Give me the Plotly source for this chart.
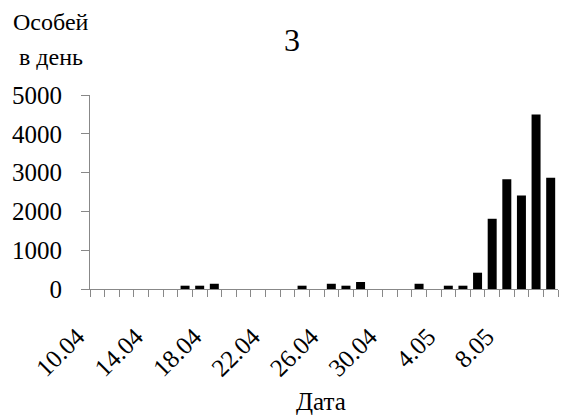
import plotly.graph_objects as go

dates = ["10.04", "11.04", "12.04", "13.04", "14.04", "15.04", "16.04", "17.04",
         "18.04", "19.04", "20.04", "21.04", "22.04", "23.04", "24.04", "25.04",
         "26.04", "27.04", "28.04", "29.04", "30.04", "1.05", "2.05", "3.05",
         "4.05", "5.05", "6.05", "7.05", "8.05", "9.05", "10.05", "11.05"]
counts = [0, 0, 0, 0, 0, 0, 85, 85,
          135, 0, 0, 0, 0, 0, 85, 0,
          135, 85, 180, 0, 0, 0, 135, 0,
          85, 85, 420, 1810, 2830, 2410, 4500, 2870]
tick_labels = ["10.04", "14.04", "18.04", "22.04", "26.04", "30.04", "4.05", "8.05"]
y_ticks = [0, 1000, 2000, 3000, 4000, 5000]

FONT = "Times New Roman"
W, H = 563, 418
ML, MR, MT, MB = 90, 4.5, 95, 128.7
pw = W - ML - MR
ph = H - MT - MB

def px(x):
    return (x - ML) / pw

def py(y):
    return (H - MB - y) / ph

fig = go.Figure(go.Bar(x=dates, y=counts, marker=dict(color="black", line=dict(width=0))))

fig.update_layout(
    width=W, height=H,
    margin=dict(l=ML, r=MR, t=MT, b=MB, pad=0, autoexpand=False),
    paper_bgcolor="white", plot_bgcolor="white",
    bargap=0.385,
    showlegend=False,
    font=dict(family=FONT, color="black", size=25),
)
fig.update_xaxes(
    type="category",
    automargin=False,
    tickmode="array",
    tickvals=dates,
    ticktext=[d if d in tick_labels else "" for d in dates],
    tickson="boundaries",
    ticks="outside", ticklen=7, tickcolor="#888888", tickwidth=1,
    showline=True, linecolor="#888888", linewidth=1,
    showgrid=False, zeroline=False,
    tickangle=-45,
    ticklabelshift=-20,
    ticklabelstandoff=22,
    tickfont=dict(family=FONT, size=25),
)
fig.update_yaxes(
    automargin=False,
    range=[0, 5000],
    tickmode="array", tickvals=y_ticks,
    ticks="outside", ticklen=8, tickcolor="#888888", tickwidth=1,
    showline=True, linecolor="#888888", linewidth=1,
    showgrid=False, zeroline=False,
    ticklabelstandoff=14,
    tickfont=dict(family=FONT, size=25),
)

fig.add_annotation(text="3", x=px(292), y=py(40), xref="paper", yref="paper",
                   showarrow=False, xanchor="center", yanchor="middle",
                   font=dict(family=FONT, size=32))
fig.add_annotation(text="Дата", x=px(321), y=py(402), xref="paper", yref="paper",
                   showarrow=False, xanchor="center", yanchor="middle",
                   font=dict(family=FONT, size=25))
fig.add_annotation(text="Особей", x=px(11), y=py(22), xref="paper", yref="paper",
                   showarrow=False, xanchor="left", yanchor="middle",
                   font=dict(family=FONT, size=24))
fig.add_annotation(text="в день", x=px(17), y=py(57), xref="paper", yref="paper",
                   showarrow=False, xanchor="left", yanchor="middle",
                   font=dict(family=FONT, size=24))

fig.write_html("out.html", config={"displayModeBar": False},
               post_script="document.body.style.margin='0';")
